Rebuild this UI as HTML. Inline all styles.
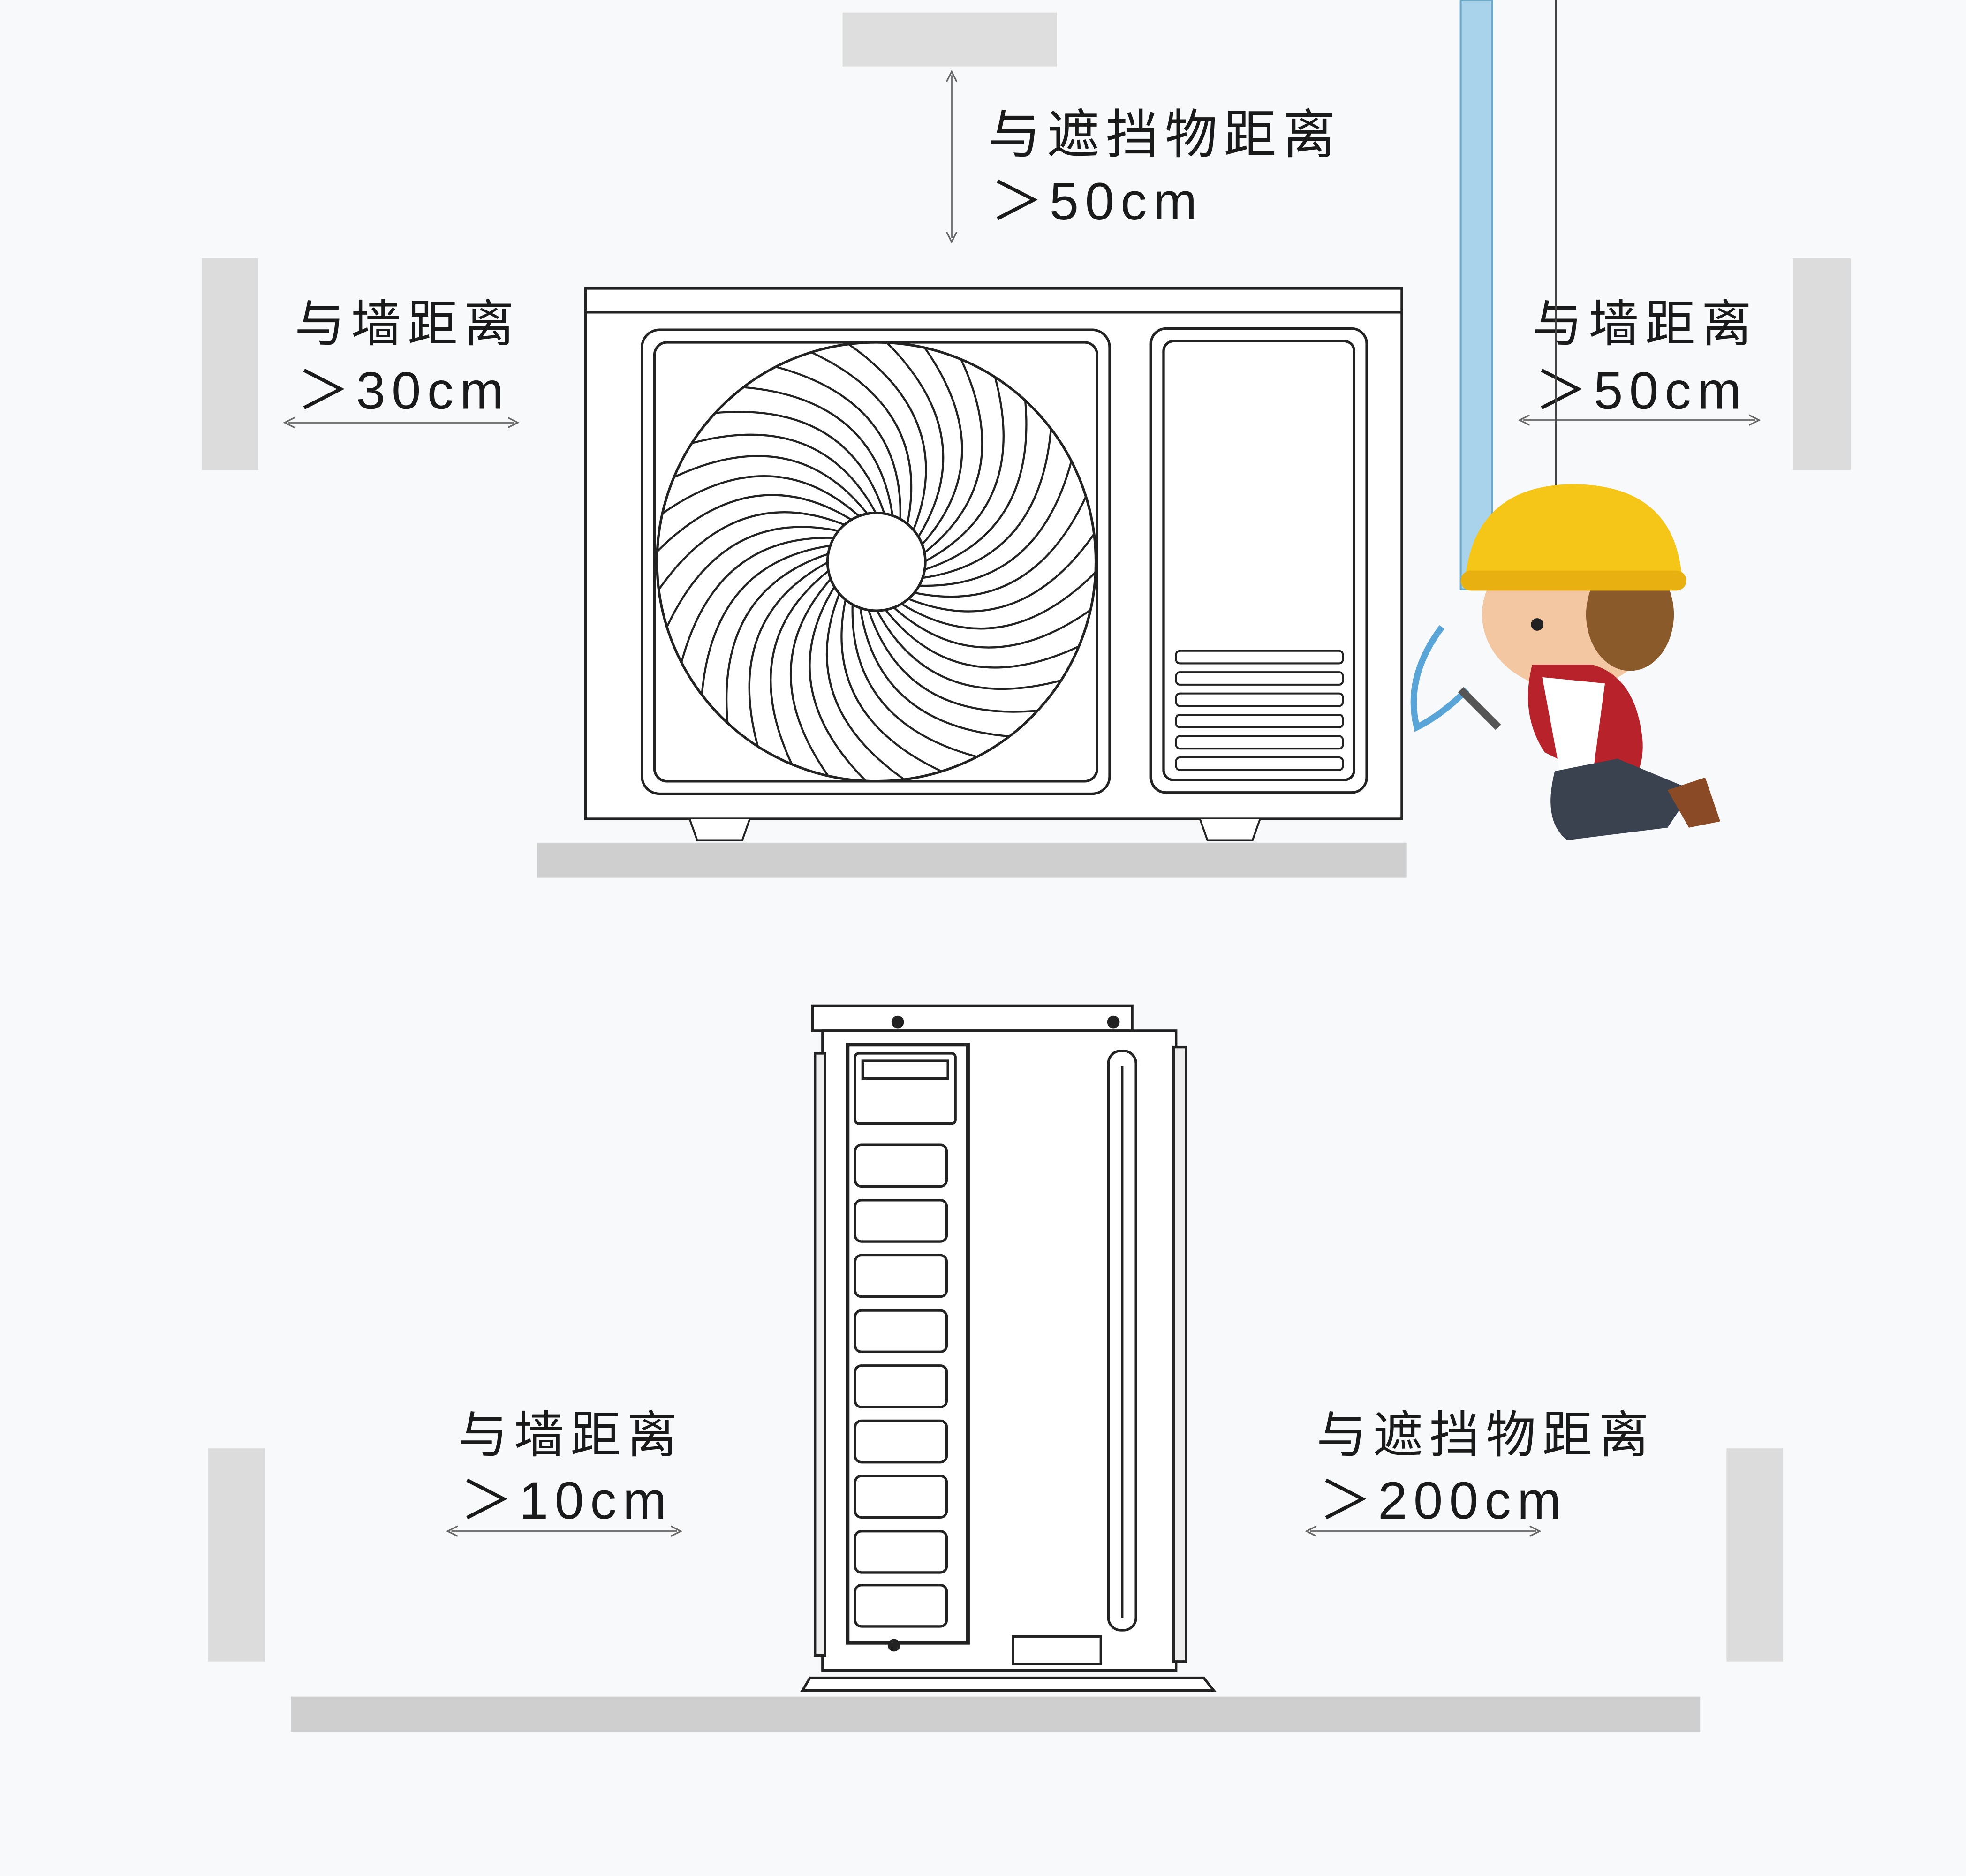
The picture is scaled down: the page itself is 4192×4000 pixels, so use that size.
<!DOCTYPE html>
<html><head><meta charset="utf-8"><style>
html,body{margin:0;padding:0;background:#f8f9fb;}
svg{display:block;}
text{font-family:"Liberation Sans","Noto Sans CJK SC",sans-serif;fill:#1a1a1a;letter-spacing:5px;}
</style></head><body>
<svg id="s" width="4192" height="4000" viewBox="0 0 1568 1496" preserveAspectRatio="none" xmlns="http://www.w3.org/2000/svg">
<defs>
<marker id="ah" markerWidth="10" markerHeight="10" refX="5" refY="5" orient="auto-start-reverse" markerUnits="userSpaceOnUse"><path d="M0,1 L8,5 L0,9" fill="none" stroke="#666" stroke-width="1.2"/></marker>
</defs>
<rect width="1568" height="1496" fill="#f8f9fb"/>
<rect x="672" y="10" width="171" height="43" fill="#dedede"/>
<line x1="759" y1="60" x2="759" y2="190" stroke="#777" stroke-width="1.5" marker-start="url(#ah)" marker-end="url(#ah)"/>
<text x="788" y="122" font-size="42">与遮挡物距离</text>
<text x="790" y="175" font-size="42">＞50cm</text>
<rect x="161" y="206" width="45" height="169" fill="#dcdcdc"/>
<rect x="1430" y="206" width="46" height="169" fill="#dcdcdc"/>
<text x="235" y="272" font-size="40">与墙距离</text>
<text x="237" y="326" font-size="42">＞30cm</text>
<line x1="230" y1="337" x2="410" y2="337" stroke="#777" stroke-width="1.5" marker-start="url(#ah)" marker-end="url(#ah)"/>
<text x="1222" y="272" font-size="40">与墙距离</text>
<text x="1224" y="326" font-size="42">＞50cm</text>
<line x1="1215" y1="335" x2="1400" y2="335" stroke="#777" stroke-width="1.5" marker-start="url(#ah)" marker-end="url(#ah)"/>
<rect x="1165" y="0" width="25" height="470" fill="#a9d3ea" stroke="#6aa8cc" stroke-width="1.5"/>
<line x1="1241" y1="0" x2="1241" y2="540" stroke="#444" stroke-width="1.5"/>
<g fill="#fff" stroke="#222" stroke-width="2">
<rect x="467" y="230" width="651" height="423"/>
<line x1="467" y1="249" x2="1118" y2="249"/>
<rect x="512" y="263" width="373" height="370" rx="14"/>
<rect x="522" y="273" width="353" height="350" rx="10"/>
<rect x="918" y="262" width="172" height="370" rx="12"/>
<rect x="928" y="272" width="152" height="350" rx="8"/>
<circle cx="699" cy="448" r="175"/>
</g>
<g id="blades" fill="none" stroke="#222" stroke-width="1.6"></g>
<circle cx="699" cy="448" r="39" fill="#fff" stroke="#222" stroke-width="2"/>
<g fill="#fff" stroke="#222" stroke-width="1.5">
<rect x="938" y="519" width="133" height="10" rx="3"/>
<rect x="938" y="536" width="133" height="10" rx="3"/>
<rect x="938" y="553" width="133" height="10" rx="3"/>
<rect x="938" y="570" width="133" height="10" rx="3"/>
<rect x="938" y="587" width="133" height="10" rx="3"/>
<rect x="938" y="604" width="133" height="10" rx="3"/>
<path d="M550,653 L556,670 L592,670 L598,653"/>
<path d="M957,653 L963,670 L999,670 L1005,653"/>
</g>
<rect x="428" y="672" width="694" height="28" fill="#cfcfcf"/>
<g>
<path d="M1150,500 q-30,40 -20,80 q20,-10 40,-30" fill="none" stroke="#5aa5d8" stroke-width="5"/>
<ellipse cx="1252" cy="490" rx="70" ry="60" fill="#f2c7a2"/>
<ellipse cx="1300" cy="490" rx="35" ry="45" fill="#8a5a2b"/>
<path d="M1168,468 q5,-80 85,-82 q80,0 88,70 z" fill="#f5c518"/>
<rect x="1165" y="455" width="180" height="16" rx="8" fill="#e8b010"/>
<circle cx="1226" cy="498" r="5" fill="#222"/>
<path d="M1222,530 q-10,40 10,70 l60,30 q20,-10 18,-40 q-5,-50 -40,-60 z" fill="#b8232b"/>
<path d="M1230,540 l15,80 l25,0 l10,-75 z" fill="#fff"/>
<path d="M1240,615 q-10,40 10,55 l80,-10 l20,-30 l-60,-25 z" fill="#3a4250"/>
<path d="M1330,630 l30,-10 l12,35 l-25,5 z" fill="#8a4a25"/>
<path d="M1165,550 l30,30" stroke="#555" stroke-width="6"/>
</g>
<g fill="#fff" stroke="#222" stroke-width="2">
<rect x="648" y="802" width="255" height="20"/>
<rect x="656" y="822" width="282" height="510"/>
<rect x="650" y="840" width="8" height="480" fill="#eee"/>
<rect x="936" y="835" width="10" height="490" fill="#eee"/>
<rect x="676" y="833" width="96" height="477" stroke-width="3"/>
<rect x="682" y="840" width="80" height="56" rx="3"/>
<rect x="688" y="846" width="68" height="14"/>
<rect x="682" y="913" width="73" height="33" rx="5"/>
<rect x="682" y="957" width="73" height="33" rx="5"/>
<rect x="682" y="1001" width="73" height="33" rx="5"/>
<rect x="682" y="1045" width="73" height="33" rx="5"/>
<rect x="682" y="1089" width="73" height="33" rx="5"/>
<rect x="682" y="1133" width="73" height="33" rx="5"/>
<rect x="682" y="1177" width="73" height="33" rx="5"/>
<rect x="682" y="1221" width="73" height="33" rx="5"/>
<rect x="682" y="1264" width="73" height="33" rx="5"/>
<rect x="884" y="838" width="22" height="462" rx="10"/>
<line x1="895" y1="850" x2="895" y2="1290"/>
<rect x="808" y="1305" width="70" height="22"/>
<path d="M640,1348 L968,1348 L960,1338 L646,1338 z"/>
</g>
<circle cx="713" cy="1312" r="5" fill="#222"/>
<circle cx="716" cy="815" r="5" fill="#222"/><circle cx="888" cy="815" r="5" fill="#222"/>
<rect x="232" y="1353" width="1124" height="28" fill="#cfcfcf"/>
<rect x="166" y="1155" width="45" height="170" fill="#dcdcdc"/>
<rect x="1377" y="1155" width="45" height="170" fill="#dcdcdc"/>
<text x="365" y="1158" font-size="40">与墙距离</text>
<text x="367" y="1211" font-size="42">＞10cm</text>
<line x1="360" y1="1221" x2="540" y2="1221" stroke="#777" stroke-width="1.5" marker-start="url(#ah)" marker-end="url(#ah)"/>
<text x="1050" y="1158" font-size="40">与遮挡物距离</text>
<text x="1052" y="1211" font-size="42">＞200cm</text>
<line x1="1045" y1="1221" x2="1225" y2="1221" stroke="#777" stroke-width="1.5" marker-start="url(#ah)" marker-end="url(#ah)"/>
</svg>
<script>
var g=document.getElementById('blades'),cx=699,cy=448,d='';
for(var i=0;i<36;i++){var a=i*Math.PI*2/36,b=a-1.0,m=a-0.35;
var x1=cx+38*Math.cos(a),y1=cy+38*Math.sin(a),x2=cx+175*Math.cos(b),y2=cy+175*Math.sin(b),
qx=cx+130*Math.cos(m),qy=cy+130*Math.sin(m);
d+='M'+x1.toFixed(1)+','+y1.toFixed(1)+' Q'+qx.toFixed(1)+','+qy.toFixed(1)+' '+x2.toFixed(1)+','+y2.toFixed(1)+' ';}
var p=document.createElementNS('http://www.w3.org/2000/svg','path');p.setAttribute('d',d);g.appendChild(p);
</script>
</body></html>
